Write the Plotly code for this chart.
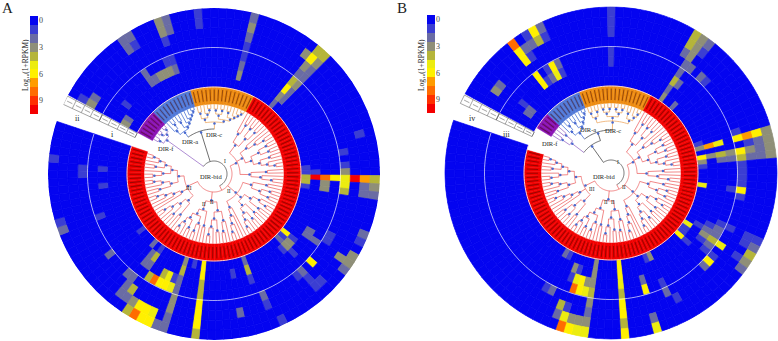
import math
import plotly.graph_objects as go

W, H = 778, 341
N_SECTORS = 122
N_RINGS = 8
START = 298.5
SPAN = 350.0
STEP = SPAN / N_SECTORS
R_LEAF, R_RING, R_MID = 70.0, 87.0, 126.5
SERIF = "Liberation Serif"

PALETTE = ["#0404f0", "#3b3ed2", "#6a6ca4", "#8f8f78", "#b5b53a", "#ecec10",
           "#fff000", "#ff9c00", "#ff6c00", "#ff3000", "#f40000"]
LEGEND_STEPS = list(range(11))
LEGEND_TICKS = [0, 3, 6, 9]

GROUP_COLOR = {"w": "#ffffff", "p": "#8a12b4", "b": "#5078d8", "o": "#ee8c12", "r": "#f20000"}
TREE_COLOR = {"p": "#9a70c8", "b": "#4a72d4", "o": "#eeaa66", "r": "#ee6a6a", "mix": "#4a4a4a"}
GROUPS_A = [("p", 6), ("b", 10), ("o", 15), ("r", 91)]
GROUPS_B = [("w", 1), ("p", 4), ("b", 9), ("o", 17), ("r", 90), ("w", 1)]

# (sector, ring, value): every cell not listed reads as 0
CELLS_A = [
    (9,7,2),(10,7,2),(9,6,2),(10,6,1),(14,7,3),(15,7,2),(14,6,3),(15,6,2),(14,5,1),(19,6,1),(19,7,1),
    (26,7,2),(26,6,3),(26,5,2),(26,3,1),(26,2,2),(26,1,3),(26,4,1),
    (35,7,4),(36,7,4),(35,6,6),(36,6,3),(34,6,3),(35,5,3),(36,5,2),(35,4,2),(36,4,2),(35,3,4),(36,3,3),(35,2,6),(36,2,2),(35,1,3),(36,1,2),(35,0,2),
    (53,0,4),(53,1,10),(53,2,8),(53,3,6),(53,4,5),(53,5,10),(53,6,7),(53,7,4),
    (54,0,4),(54,2,3),(54,4,5),(54,6,2),(54,7,3),(55,0,1),(55,2,3),(55,4,4),(55,6,2),(55,7,2),
    (52,0,1),(52,4,3),(52,1,1),(51,4,1),(51,0,1),(49,4,1),(47,6,1),
    (66,0,6),(66,1,1),(67,1,3),(68,1,3),(68,0,2),(67,0,1),(68,2,1),(69,1,1),
    (64,2,2),(64,3,2),(63,2,2),(62,4,1),(63,4,1),(64,7,3),(63,7,3),(64,6,3),(65,7,2),(60,7,2),(61,7,1),
    (67,4,6),(69,4,2),(69,5,1),(68,6,1),(69,6,1),(70,4,1),
    (77,0,2),(77,1,4),(77,2,1),(80,1,1),(76,4,2),(76,5,1),(75,7,1),(80,5,2),
    (86,0,6),(86,1,6),(86,2,4),(86,3,4),(86,4,6),(86,5,6),(86,6,6),(86,7,4),
    (90,0,3),(90,1,4),(90,2,2),(90,3,2),(90,4,3),(90,5,3),(90,6,2),(90,7,2),(88,0,1),
    (91,3,5),(92,3,6),(93,3,6),(94,3,8),(95,3,4),(92,2,5),(93,2,4),(91,2,1),
    (92,6,5),(93,6,6),(94,6,6),(95,6,3),(92,7,6),(93,7,6),(94,7,8),(95,7,4),(96,6,2),(91,7,2),
    (96,5,4),(97,6,2),(97,5,2),(98,4,2),(97,4,2),
    (96,1,4),(97,1,2),(98,0,2),(96,2,2),(97,2,2),(96,0,1),
    (102,4,2),(102,0,1),(108,7,2),(109,7,1),(108,3,1),(113,2,1),(116,2,1),(116,4,1),(117,7,1),(115,4,1),
    (0,1,3),(1,1,2),(3,2,1),(0,5,3),(1,5,2),(0,6,1),
    (9,2,2),(10,2,2),(11,2,3),(12,2,3),(13,2,3),(14,2,2),(9,3,2),(14,3,1),(13,3,1),
]
CELLS_B = [
    (21,7,1),(21,6,1),(21,5,1),(21,2,1),(21,3,1),
    (11,7,6),(11,6,4),(12,7,2),(12,6,1),(10,6,2),(10,7,1),(8,7,8),(8,6,6),(9,6,2),(8,5,6),(9,5,1),
    (11,3,6),(11,2,5),(12,3,2),(12,2,1),(10,3,1),(8,3,6),(8,2,6),(10,2,2),(9,2,1),
    (2,5,3),(3,5,2),(3,1,2),(2,1,2),(3,2,1),
    (32,7,4),(33,7,3),(32,6,4),(33,6,3),(33,5,3),(32,5,2),(33,4,2),(34,4,2),(33,3,2),(33,2,4),(34,2,2),(33,1,2),(33,0,3),(34,7,2),(34,6,1),(36,4,2),(36,0,2),(37,4,1),
    (47,0,3),(47,1,7),(47,2,5),(47,4,6),(47,5,7),(47,6,6),(47,7,3),(46,4,1),(46,0,1),
    (48,6,2),(48,7,3),(48,5,1),
    (49,0,6),(49,1,3),(49,2,4),(49,3,3),(49,4,6),(49,5,3),(49,6,2),(49,7,3),
    (50,0,3),(50,2,2),(50,3,2),(50,4,4),(50,5,2),(50,6,2),(50,7,3),(51,4,1),(51,0,1),(52,4,1),(53,4,1),
    (55,0,5),(55,4,6),(54,4,1),(55,3,1),(56,4,1),
    (64,0,5),(65,0,1),(67,0,6),(66,0,1),(67,1,1),(63,1,1),
    (64,2,3),(64,3,4),(64,4,5),(63,3,2),(62,3,2),(62,2,1),(61,4,1),(61,3,1),(63,2,2),(65,3,2),(65,2,1),
    (67,4,6),(66,4,1),(66,3,1),(68,4,2),(63,7,4),(64,7,3),(64,6,1),(65,7,2),(61,7,1),(61,6,1),(62,6,1),(62,7,2),
    (75,0,3),(76,0,1),(78,3,6),(78,2,2),(75,4,2),(75,3,1),(78,7,5),(78,6,2),(74,5,1),
    (82,0,6),(82,1,6),(82,2,5),(82,3,4),(82,4,6),(82,5,6),(82,6,4),(82,7,6),
    (87,0,3),(87,1,3),(87,2,3),(87,3,4),(87,4,3),(87,5,2),(87,6,3),(87,7,5),
    (88,2,3),(89,2,6),(90,2,5),(88,3,5),(89,3,6),(90,3,8),(91,1,3),(91,2,1),(90,1,1),
    (88,6,3),(89,6,3),(90,6,5),(88,7,5),(89,7,6),(90,7,8),(91,5,4),(91,6,2),(90,5,1),
    (93,4,2),(94,4,1),(93,0,1),(94,0,2),
]

P_A = "((x,x),((x,x),(x,x))):59"
B_A = "((x,(x,x)),((x,x),(x,(x,(x,(x,x)))))):52"
O_A = "(((x,x),(x,(x,x))),(((x,x),(x,x)),((x,x),(x,(x,(x,x)))))):52"
P_B = "((x,x),(x,x)):50"
B_B = "((x,(x,x)),((x,x),(x,(x,(x,x))))):52"
O_B = "(((x,x),(x,x)),(((x,x),(x,x)),((x,x),(x,x))),((x,x),(x,(x,x)))):52"
R_I = "(((x,(x,x)),((x,x),(x,x))),((x,(x,(x,x))),(((x,x),(x,x)),((x,x),(x,(x,x))))),((x,x),(x,(x,x)))):26"
R_IIA = "(((x,x),((x,x),(x,x))),(((x,(x,x)),(x,x)),((x,x),((x,x),(x,(x,x))))),(x,(x,(x,(x,x))))):30"
R_IIB = "((x,(x,x)),((x,x),(x,(x,x)))):38"
R_IIC = "((x,x),((x,(x,x)),((x,x),(x,(x,x))))):38"
R_III_A = "(((x,x),((x,x),(x,(x,x)))),(x,(x,(x,(x,x)))),(((x,x),(x,(x,x))),(((x,x),x),((x,x),(x,(x,x)))))):30"
R_III_B = "(((x,x),((x,x),(x,x))),(x,(x,(x,(x,x)))),(((x,x),(x,(x,x))),(((x,x),x),((x,x),(x,(x,x)))))):30"
TREE_A = f"({P_A},({B_A},{O_A}):45,({R_I},{R_IIA},({R_IIB},{R_IIC}):28,{R_III_A}):18):13"
TREE_B = f"(({P_B},({B_B},{O_B}):43):34,({R_I},{R_IIA},({R_IIB},{R_IIC}):28,{R_III_B}):18):13"


def sector_theta(s):
    return START + (s + 0.5) * STEP


def expand(groups):
    return [g for g, n in groups for _ in range(n)]


def parse(text):
    pos = 0

    def node():
        nonlocal pos
        if text[pos] == "x":
            pos += 1
            return {"kids": [], "r": None}
        pos += 1
        kids = [node()]
        while text[pos] == ",":
            pos += 1
            kids.append(node())
        pos += 1
        r = None
        if pos < len(text) and text[pos] == ":":
            pos += 1
            j = pos
            while j < len(text) and text[j].isdigit():
                j += 1
            r = float(text[pos:j])
            pos = j
        return {"kids": kids, "r": r}

    return node()


def layout_tree(root, first_leaf, sector_groups):
    segs = {}
    dots_t, dots_r = [], []
    counter = [first_leaf]

    def height(n):
        n["h"] = 0 if not n["kids"] else 1 + max(height(k) for k in n["kids"])
        return n["h"]

    def place(n, parent_r):
        if not n["kids"]:
            n["r"] = R_LEAF
        elif n["r"] is None:
            n["r"] = parent_r + (R_LEAF - parent_r) / (n["h"] + 1)
        if not n["kids"]:
            s = counter[0]
            counter[0] += 1
            n["t"] = sector_theta(s)
            n["g"] = {sector_groups[s]}
        else:
            for k in n["kids"]:
                place(k, n["r"])
            n["t"] = (n["kids"][0]["t"] + n["kids"][-1]["t"]) / 2
            n["g"] = set().union(*(k["g"] for k in n["kids"]))

    def add(color, ts, rs):
        bucket = segs.setdefault(color, ([], []))
        bucket[0].extend([t % 360 for t in ts] + [None])
        bucket[1].extend(rs + [None])

    def emit(n):
        if not n["kids"]:
            return
        key = next(iter(n["g"])) if len(n["g"]) == 1 else "mix"
        a, b = n["kids"][0]["t"], n["kids"][-1]["t"]
        steps = max(2, int((b - a) / 2) + 1)
        add(key, [a + (b - a) * i / steps for i in range(steps + 1)], [n["r"]] * (steps + 1))
        for k in n["kids"]:
            kkey = next(iter(k["g"])) if len(k["g"]) == 1 else "mix"
            add(kkey, [k["t"], k["t"]], [n["r"], k["r"]])
            emit(k)
        if n["r"] >= 24:
            dots_t.append(n["t"] % 360)
            dots_r.append(n["r"] - 1.5)

    height(root)
    place(root, 0)
    emit(root)
    return segs, dots_t, dots_r


fig = go.Figure()


def add_panel(cells, groups, tree, first_leaf, subplot):
    grid = [[0] * N_RINGS for _ in range(N_SECTORS)]
    for s, ring, v in cells:
        grid[s][ring] = v
    sector_groups = expand(groups)
    ring_w = (R_MID - R_RING) / 4
    th, rr, base, col = [], [], [], []
    for s in range(N_SECTORS):
        for ring in range(N_RINGS):
            th.append(sector_theta(s) % 360)
            rr.append(ring_w)
            base.append(R_RING + ring * ring_w)
            col.append(PALETTE[grid[s][ring]])
    fig.add_trace(go.Barpolar(theta=th, r=rr, base=base, width=STEP,
                              marker=dict(color=col, line=dict(width=0.7, color=col)),
                              subplot=subplot, hoverinfo="skip", showlegend=False))
    th2 = [sector_theta(s) % 360 for s in range(N_SECTORS)]
    ring_cols = [GROUP_COLOR[g] for g in sector_groups]
    fig.add_trace(go.Barpolar(theta=th2, r=[R_RING - R_LEAF] * N_SECTORS, base=[R_LEAF] * N_SECTORS,
                              width=STEP,
                              marker=dict(color=ring_cols, line=dict(width=0.5, color=ring_cols)),
                              subplot=subplot, hoverinfo="skip", showlegend=False))
    # dark label marks inside the coloured ring
    mt, mr = [], []
    for s, g in enumerate(sector_groups):
        if g == "w":
            continue
        t = sector_theta(s) % 360
        mt += [t, t, None]
        mr += [R_LEAF + 3, R_RING - 2.5, None]
    fig.add_trace(go.Scatterpolar(theta=mt, r=mr, mode="lines", line=dict(color="rgba(70,10,0,0.5)", width=1.1),
                                  subplot=subplot, hoverinfo="skip", showlegend=False))
    # white guide circles
    arc = [START + i * 2.0 for i in range(176)]
    for radius, w, c in [(R_MID, 0.8, "rgba(255,255,255,0.8)"), (R_RING, 1.0, "rgba(255,225,225,0.9)")]:
        fig.add_trace(go.Scatterpolar(theta=[a % 360 for a in arc], r=[radius] * len(arc), mode="lines",
                                      line=dict(color=c, width=w), subplot=subplot,
                                      hoverinfo="skip", showlegend=False))
    # label boxes in the gap
    bt, br = [], []
    t1, t2 = START - 3.7, START - 0.5
    for lo, hi in [(R_RING, R_MID), (R_MID, 166.0)]:
        bt += [t1, t2, t2, t1, t1, None]
        br += [lo, lo, hi, hi, lo, None]
    for ring in range(N_RINGS):
        rb = R_RING + ring * ring_w
        bt += [t1, t2, None, (t1 + t2) / 2, (t1 + t2) / 2, None]
        br += [rb, rb, None, rb + 2, rb + ring_w - 2, None]
    fig.add_trace(go.Scatterpolar(theta=bt, r=br, mode="lines", line=dict(color="#666666", width=0.6),
                                  subplot=subplot, hoverinfo="skip", showlegend=False))
    # tree
    segs, dt, dr = layout_tree(parse(tree), first_leaf, sector_groups)
    for key, (ts, rs) in segs.items():
        fig.add_trace(go.Scatterpolar(theta=ts, r=rs, mode="lines",
                                      line=dict(color=TREE_COLOR[key], width=0.8),
                                      subplot=subplot, hoverinfo="skip", showlegend=False))
    fig.add_trace(go.Scatterpolar(theta=dt, r=dr, mode="markers", marker=dict(color="#4a6ad0", size=2.5),
                                  subplot=subplot, hoverinfo="skip", showlegend=False))


add_panel(CELLS_A, GROUPS_A, TREE_A, 0, "polar")
add_panel(CELLS_B, GROUPS_B, TREE_B, 1, "polar2")

# colour keys
scale = [[i / 10, PALETTE[i]] for i in LEGEND_STEPS]
for xa, ya in [("x", "y"), ("x2", "y2")]:
    fig.add_trace(go.Heatmap(z=[[v] for v in LEGEND_STEPS], y=LEGEND_STEPS, x=[0], xaxis=xa, yaxis=ya,
                             colorscale=scale, zmin=0, zmax=10, showscale=False, hoverinfo="skip"))


def polar_layout(x0, x1, y0, y1, rmax):
    return dict(domain=dict(x=[x0 / W, x1 / W], y=[1 - y1 / H, 1 - y0 / H]),
                bgcolor="rgba(0,0,0,0)",
                radialaxis=dict(visible=False, range=[0, rmax]),
                angularaxis=dict(visible=False, direction="clockwise", rotation=90, thetaunit="degrees"),
                bargap=0)


def ytick(dom, anchor):
    return dict(domain=dom, autorange="reversed", side="right", anchor=anchor, tickmode="array",
                tickvals=LEGEND_TICKS, ticktext=[str(v) for v in LEGEND_TICKS], ticks="", ticklen=0,
                showgrid=False, zeroline=False, showline=False,
                tickfont=dict(family=SERIF, size=8, color="#444444"))


def text(x, y, s, size=6.5, angle=0):
    return dict(x=x / W, y=1 - y / H, xref="paper", yref="paper", text=s, showarrow=False,
                textangle=angle, font=dict(family=SERIF, size=size, color="#222222"),
                xanchor="center", yanchor="middle")


annotations = [
    text(8, 8, "A", 15), text(402, 8, "B", 15),
    text(25, 65, "Log\u2081\u2080(1+RPKM)", 7.5, -90), text(421, 65, "Log\u2081\u2080(1+RPKM)", 7.5, -90),
    text(112, 134, "i", 8), text(77, 118, "ii", 8), text(506, 134, "iii", 8), text(472, 118, "iv", 8),
    text(211, 176, "DIR-bid"), text(190, 141, "DIR-a"), text(214, 134, "DIR-c"), text(166, 148, "DIR-f"),
    text(225, 161, "I", 5.5), text(229, 191, "II", 5.5), text(212, 202, "II", 5.5), text(204, 204, "II", 5.5), text(189, 188, "III", 5.5),
    text(604, 176, "DIR-bid"), text(588, 129, "DIR-a"), text(613, 130, "DIR-c"), text(550, 143, "DIR-f"),
    text(618, 162, "I", 5.5), text(624, 187, "II", 5.5), text(613, 202, "II", 5.5), text(606, 202, "II", 5.5), text(592, 189, "III", 5.5),
]

fig.update_layout(
    width=W, height=H, margin=dict(l=0, r=0, t=0, b=0), paper_bgcolor="white", plot_bgcolor="white",
    showlegend=False,
    polar=polar_layout(48, 380, 8, 340, 166),
    polar2=polar_layout(444, 778, 6, 340, 167),
    xaxis=dict(domain=[30 / W, 38 / W], visible=False, anchor="y"),
    yaxis=ytick([1 - 114 / H, 1 - 16 / H], "x"),
    xaxis2=dict(domain=[427 / W, 435 / W], visible=False, anchor="y2"),
    yaxis2=ytick([1 - 113 / H, 1 - 15 / H], "x2"),
    annotations=annotations,
)
fig.write_html("out.html", config={"displayModeBar": False},
               post_script="document.body.style.margin='0';document.body.style.overflow='hidden';")
